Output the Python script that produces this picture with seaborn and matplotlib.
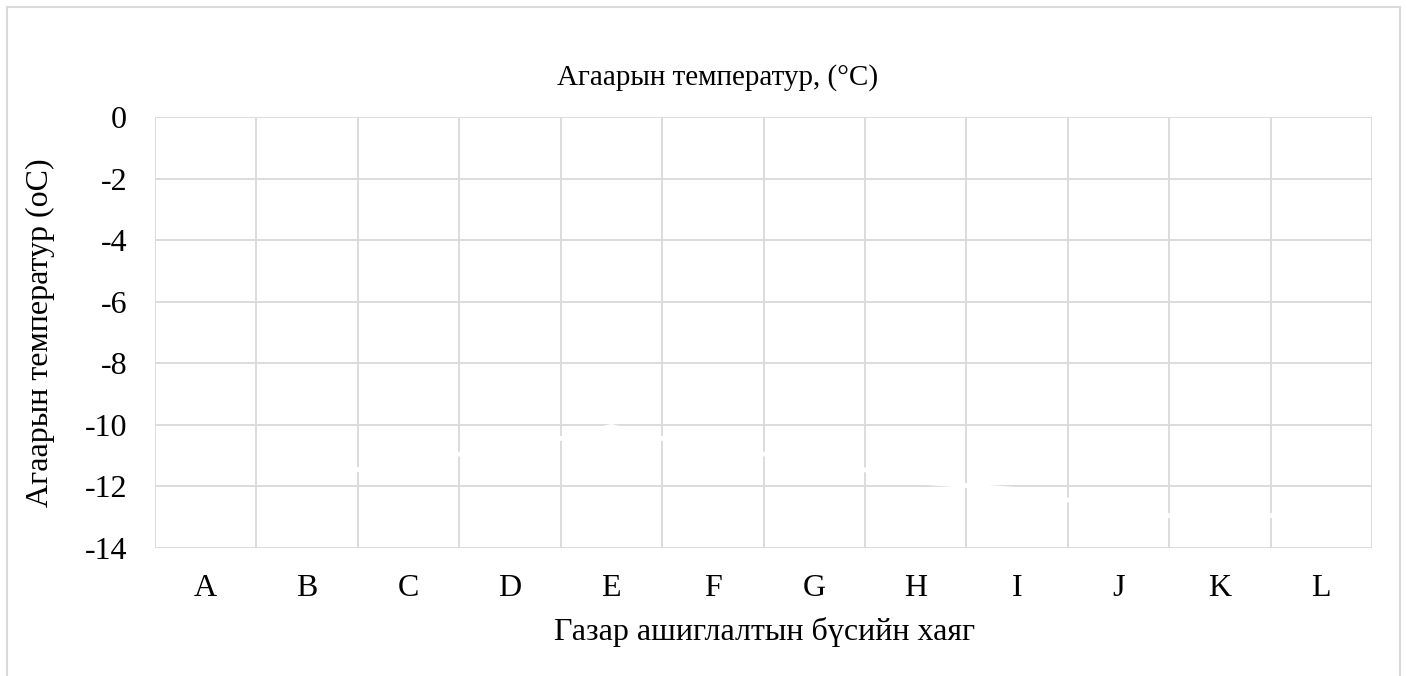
import numpy as np
import pandas as pd
import seaborn as sns
import matplotlib.pyplot as plt
from matplotlib.patches import Rectangle

# Datos (la serie esta dibujada en blanco)
categorias = ["A", "B", "C", "D", "E", "F", "G", "H", "I", "J", "K", "L"]
temperatura = [np.nan, -11.85, -11.07, -10.83, -10.05, -10.83, -11.07, -11.85, -12.1, -12.78, -13.12, -12.78]
ticks_y = [0, -2, -4, -6, -8, -10, -12, -14]

df = pd.DataFrame({"Хаяг": categorias, "Температур": temperatura})

sns.set_theme(style="white")
plt.rcParams["font.family"] = ["Liberation Serif", "DejaVu Serif"]
plt.rcParams["text.color"] = "black"
plt.rcParams["axes.labelcolor"] = "black"
plt.rcParams["xtick.color"] = "black"
plt.rcParams["ytick.color"] = "black"

gris = "#d9d9d9"

fig = plt.figure(figsize=(14.07, 6.76), dpi=100)
ax = fig.add_axes([155 / 1407, 1 - 548 / 676, (1372 - 155) / 1407, (548 - 117) / 676])

sns.pointplot(data=df, x="Хаяг", y="Температур", order=categorias, color="white",
              markers="", linestyles="-", linewidth=3.4, errorbar=None, ax=ax, zorder=5)

ax.set_ylim(-14, 0)
ax.set_yticks(ticks_y)
ax.set_yticklabels([str(t) for t in ticks_y], fontsize=23)
ax.set_xlim(-0.5, len(categorias) - 0.5)
ax.set_xticks(range(len(categorias)))
ax.set_xticklabels(categorias, fontsize=23)
ax.set_xticks(np.arange(-0.5, len(categorias), 1), minor=True)
ax.tick_params(axis="both", which="both", length=0)
ax.tick_params(axis="x", pad=19)
ax.tick_params(axis="y", pad=20)

ax.grid(False)
ax.yaxis.grid(True, color=gris, linewidth=1.3)
ax.xaxis.grid(True, which="minor", color=gris, linewidth=1.3)
ax.set_axisbelow(True)
for s in ax.spines.values():
    s.set_visible(False)

ax.set_xlabel("Газар ашиглалтын бүсийн хаяг", fontsize=23)
ax.xaxis.set_label_coords((765 - 155) / 1217, (548 - 617) / 431)
ax.set_ylabel("Агаарын температур (oC)", fontsize=23)
ax.yaxis.set_label_coords((55 - 155) / 1217, 0.5)

fig.text(718 / 1407, 1 - 85 / 676, "Агаарын температур, (°C)", ha="center", va="baseline", fontsize=21)

# marco del grafico
fig.patches.append(Rectangle((7 / 1407, -0.1), 1393 / 1407, 1.1 - 7 / 676,
                             transform=fig.transFigure, fill=False, edgecolor=gris, linewidth=1.5))

fig.savefig("out.png", dpi=100)
